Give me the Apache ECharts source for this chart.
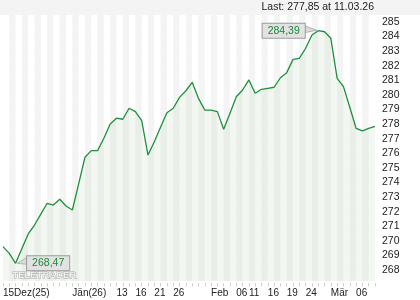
<!DOCTYPE html>
<html><head><meta charset="utf-8">
<script src="https://cdn.jsdelivr.net/npm/echarts@6/dist/echarts.min.js"></script>
<style>html,body{margin:0;padding:0;background:#fff}#c{width:420px;height:300px}</style>
</head><body><div id="c"></div>
<script>
// trading days
const categories = [
 '2025-12-15','2025-12-16','2025-12-17','2025-12-18','2025-12-19','2025-12-22','2025-12-23','2025-12-24','2025-12-29','2025-12-30','2025-12-31',
 '2026-01-02','2026-01-05','2026-01-06','2026-01-07','2026-01-08','2026-01-09','2026-01-12','2026-01-13','2026-01-14','2026-01-15','2026-01-16',
 '2026-01-19','2026-01-20','2026-01-21','2026-01-22','2026-01-23','2026-01-26','2026-01-27','2026-01-28','2026-01-29','2026-01-30',
 '2026-02-02','2026-02-03','2026-02-04','2026-02-05','2026-02-06','2026-02-09','2026-02-10','2026-02-11','2026-02-12','2026-02-13',
 '2026-02-16','2026-02-17','2026-02-18','2026-02-19','2026-02-20','2026-02-23','2026-02-24','2026-02-25','2026-02-26','2026-02-27',
 '2026-03-02','2026-03-03','2026-03-04','2026-03-05','2026-03-06','2026-03-09','2026-03-10','2026-03-11'
];
const prices = [
 269.61,269.15,268.47,269.48,270.48,271.09,271.84,272.58,272.46,272.85,272.39,
 272.12,273.90,275.73,276.18,276.18,277.03,278.00,278.40,278.33,279.08,278.85,
 278.23,275.88,276.79,277.80,278.78,279.08,279.83,280.28,280.86,279.76,
 278.96,278.96,278.85,277.64,278.74,279.87,280.33,281.02,280.11,280.38,
 280.45,280.52,281.17,281.52,282.43,282.50,283.19,284.10,284.39,284.32,
 283.87,281.13,280.56,279.15,277.71,277.53,277.71,277.85
];
const tickLabels = [
 '15Dez(25)','','','','','','','','','','',
 'Jän(26)','','','','','','','13','','','16',
 '','','21','','','26','','','','',
 '','Feb','','','','06','','11','','',
 '16','','','19','','','24','','','',
 'Mär','','','','06','','',''
];
const yMin = 267, yMax = 286, yStep = 1;
const lastText = 'Last: 277,85 at 11.03.26';
const watermark = 'TELETRADER';

const FONT = '"Liberation Sans", Arial, sans-serif';
const fmt = v => v.toFixed(2).replace('.', ',');
const chart = echarts.init(document.getElementById('c'), null, {renderer:'canvas'});
chart.setOption({
  animation: false,
  backgroundColor: '#ffffff',
  textStyle: {fontFamily: FONT},
  grid: {left: 3, right: 45, top: 7.19, bottom: 15.22, containLabel: false},
  xAxis: [{
    type: 'category', data: categories, boundaryGap: false,
    axisLine: {show:false}, axisTick: {show:false}, axisLabel: {show:false},
    splitLine: {show:false},
    splitArea: {show:true, interval: 0, areaStyle: {color: ['#ffffff', '#f4f4f4']}}
  }, {
    type: 'category', data: categories, boundaryGap: false, position: 'bottom', z: 10,
    offset: -1.5,
    axisLine: {show:false},
    axisTick: {show:true, interval: 0, length: 3, lineStyle: {color: '#cccccc', width: 1}},
    axisLabel: {show:true, interval: 0, align: 'left', margin: 5, fontSize: 10, color: '#222', fontFamily: FONT,
      formatter: (v, i) => tickLabels[i] || ''},
    splitLine: {show:false}
  }],
  yAxis: {
    type: 'value', position: 'right', min: yMin, max: yMax, interval: yStep,
    axisLine: {show:false}, axisTick: {show:false},
    axisLabel: {margin: 7, fontSize: 10.5, color: '#222', fontFamily: FONT,
      formatter: v => (v <= yMin || v >= yMax) ? '' : String(v)},
    splitLine: {show:true, showMinLine:false, showMaxLine:false, lineStyle: {color: '#e0e0e0', width: 1}}
  },
  series: [{
    type: 'line', data: prices, xAxisIndex: 0, symbol: 'none', smooth: false,
    lineStyle: {color: '#1f8f3e', width: 1.3},
    areaStyle: {color: 'rgba(180,210,175,0.25)', origin: 'start'},
    markPoint: {
      symbol: 'rect', symbolSize: 1, itemStyle: {color: 'rgba(0,0,0,0)'},
      label: {show: true, formatter: p => fmt(p.value), color: '#1a8a3a', fontSize: 10.5, fontFamily: FONT,
        backgroundColor: '#e2e2e2', borderColor: '#9c9c9c', borderWidth: 1, padding: [2, 5, 1, 5]},
      data: [
        {type: 'max', label: {position: 'left', distance: 13}},
        {type: 'min', label: {position: 'right', distance: 11}}
      ]
    }
  }],
  graphic: [
    {id: 'banner', type: 'rect', z: 100, shape: {x: 0, y: 0, width: 420, height: 15}, style: {fill: '#f4f4f4'}},
    {id: 'last', type: 'text', z: 101, right: 46, top: 1.5, style: {text: lastText, font: '10.5px ' + FONT, fill: '#222'}},
    {id: 'mask', type: 'rect', z: 5, shape: {x: 0, y: 281, width: 376, height: 4}, style: {fill: '#ffffff'}},
    {id: 'wm', type: 'text', z: 6, left: 12, top: 269.5, style: {text: watermark, font: 'bold 9.5px ' + FONT, fill: 'rgba(255,255,255,0.7)', stroke: '#a8a8a8', lineWidth: 0.8}}
  ]
});
// callout pointers, positioned through the chart's own scales
const iMax = prices.indexOf(Math.max(...prices));
const iMin = prices.indexOf(Math.min(...prices));
const pMax = chart.convertToPixel({xAxisIndex: 0, yAxisIndex: 0}, [iMax, prices[iMax]]);
const pMin = chart.convertToPixel({xAxisIndex: 0, yAxisIndex: 0}, [iMin, prices[iMin]]);
chart.setOption({graphic: [
  {id: 'tailMax', type: 'polygon', z: 4, shape: {points: [[pMax[0]-13.5, pMax[1]-5], [pMax[0]-13.5, pMax[1]+2], [pMax[0]-1.5, pMax[1]-0.5]]},
    style: {fill: '#dadada', stroke: '#a6a6a6', lineWidth: 0.8}},
  {id: 'tailMin', type: 'polygon', z: 4, shape: {points: [[pMin[0]+11.5, pMin[1]-6], [pMin[0]+11.5, pMin[1]+1], [pMin[0]+1.5, pMin[1]]]},
    style: {fill: '#dadada', stroke: '#a6a6a6', lineWidth: 0.8}}
]});
</script>
</body></html>
